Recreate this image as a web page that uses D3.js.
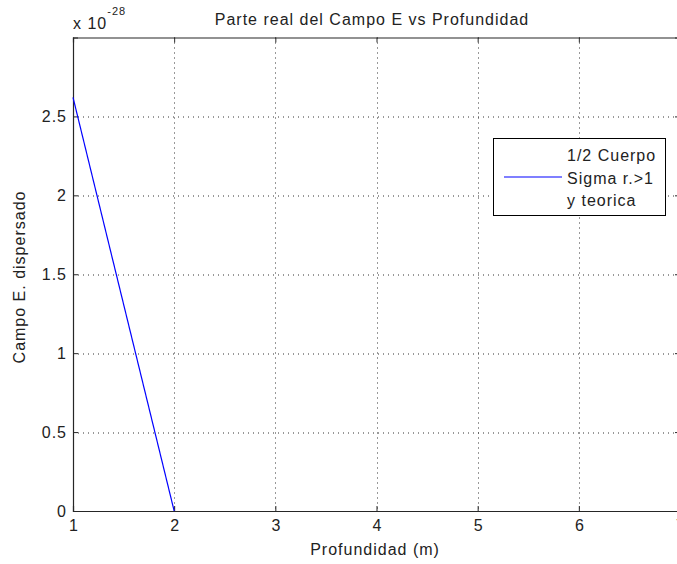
<!DOCTYPE html>
<html>
<head>
<meta charset="utf-8">
<script src="https://cdn.jsdelivr.net/npm/d3@7"></script>
<style>
  body { margin: 0; background: #fff; }
  text { font-family: "Liberation Sans", Arial, sans-serif; fill: #222; letter-spacing: 1px; }
</style>
</head>
<body>
<script>
// data (y values are in units of 10^-28)
const depth = [1, 2];
const field = [2.62, 0];
const xTicks = [1, 2, 3, 4, 5, 6, 7];
const yTicks = [0, 0.5, 1, 1.5, 2, 2.5];
const yExponent = "-28";
const legendLines = ["1/2 Cuerpo", "Sigma r.>1", "y teorica"];

const W = 677, H = 564;
const margin = { top: 37.5, left: 73 };
const plotW = 607, plotH = 473.5;

const x = d3.scaleLinear().domain([1, 7]).range([0, plotW]);
const y = d3.scaleLinear().domain([0, 3]).range([plotH, 0]);

const svg = d3.select("body").append("svg")
  .attr("width", W)
  .attr("height", H);

const g = svg.append("g")
  .attr("transform", "translate(" + margin.left + "," + margin.top + ")");

// grid
g.selectAll(".gx")
  .data(xTicks.filter(d => d > 1 && d < 7))
  .enter().append("line")
  .attr("x1", d => Math.round(x(d)) + 0.5)
  .attr("x2", d => Math.round(x(d)) + 0.5)
  .attr("y1", 0).attr("y2", plotH)
  .attr("stroke", "#333")
  .attr("stroke-dasharray", "1,4");

g.selectAll(".gy")
  .data(yTicks.filter(d => d > 0))
  .enter().append("line")
  .attr("y1", d => Math.round(y(d)) + 0.5)
  .attr("y2", d => Math.round(y(d)) + 0.5)
  .attr("x1", 0).attr("x2", plotW)
  .attr("stroke", "#333")
  .attr("stroke-dasharray", "1,4");

// axes (ticks pointing inwards, MATLAB style)
const tickLen = 5;
const xAxis = d3.axisBottom(x).tickValues(xTicks).tickSize(-tickLen).tickPadding(9).tickFormat(d3.format("d"));
const yAxis = d3.axisLeft(y).tickValues(yTicks).tickSize(-tickLen).tickPadding(6).tickFormat(d => d);

const gx = g.append("g")
  .attr("transform", "translate(0," + plotH + ")")
  .call(xAxis);
const gy = g.append("g").call(yAxis);
const gTop = g.append("g").call(d3.axisTop(x).tickValues(xTicks).tickSize(-tickLen).tickFormat(""));
const gRight = g.append("g").attr("transform", "translate(" + plotW + ",0)")
  .call(d3.axisRight(y).tickValues(yTicks).tickSize(-tickLen).tickFormat(""));

[gx, gy, gTop, gRight].forEach(a => {
  a.select(".domain").attr("stroke", "#262626").attr("stroke-width", 1.2);
  a.selectAll(".tick line").attr("stroke", "#262626");
  a.selectAll(".tick text").style("font-size", "16px").attr("fill", "#222");
});
gx.selectAll(".tick text").attr("dx", "0.5");

// data line
g.append("path")
  .datum(depth.map((d, i) => [d, field[i]]))
  .attr("fill", "none")
  .attr("stroke", "#0000ff")
  .attr("stroke-width", 1.2)
  .attr("d", d3.line().x(d => x(d[0])).y(d => y(d[1])));

// exponent label
const expo = svg.append("text")
  .attr("x", 73).attr("y", 29)
  .style("font-size", "16px");
expo.append("tspan").text("x 10");
expo.append("tspan").attr("dy", -14).style("font-size", "11px").text(yExponent);

// title
svg.append("text")
  .attr("x", 372).attr("y", 25)
  .attr("text-anchor", "middle")
  .style("font-size", "16px")
  .text("Parte real del Campo E vs Profundidad");

// axis labels
svg.append("text")
  .attr("x", 375).attr("y", 555)
  .attr("text-anchor", "middle")
  .style("font-size", "16px")
  .text("Profundidad (m)");

svg.append("text")
  .attr("transform", "translate(25,277) rotate(-90)")
  .attr("text-anchor", "middle")
  .style("font-size", "16px")
  .text("Campo E. dispersado");

// legend
const legend = svg.append("g");
legend.append("rect")
  .attr("x", 493.5).attr("y", 138.5)
  .attr("width", 172).attr("height", 77)
  .attr("fill", "#fff")
  .attr("stroke", "#000");
legend.append("line")
  .attr("x1", 504).attr("x2", 562)
  .attr("y1", 177).attr("y2", 177)
  .attr("stroke", "#0000ff")
  .attr("stroke-width", 1.2);
legend.selectAll(".lt")
  .data(legendLines)
  .enter().append("text")
  .attr("x", 567)
  .attr("y", (d, i) => 161 + i * 22.7)
  .style("font-size", "16px")
  .text(d => d);
</script>
</body>
</html>
